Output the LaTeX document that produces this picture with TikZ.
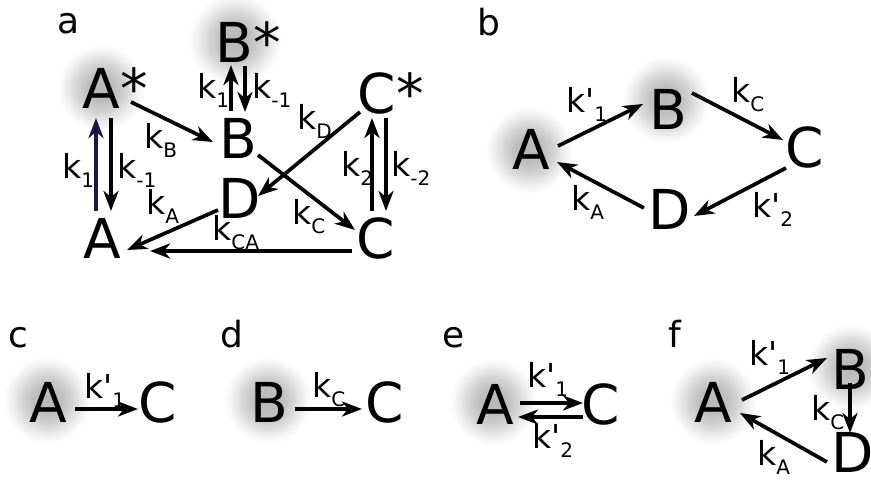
\documentclass[tikz,border=0pt]{standalone}
\usepackage{fontspec}
\setmainfont{DejaVu Sans}
\usetikzlibrary{arrows.meta,calc}
\pgfdeclareradialshading{glow}{\pgfpoint{0bp}{0bp}}{color(0bp)=(black!28); color(8bp)=(black!25); color(14bp)=(black!17); color(19bp)=(black!8); color(23bp)=(black!2); color(25bp)=(white); color(50bp)=(white)}
\newcommand\sbs[1]{\raisebox{-0.3em}{\fontsize{20}{20}\selectfont #1}}
\newcommand\pr{\XeTeXglyph\the\XeTeXcharglyph"0027\relax}
\definecolor{navy}{RGB}{26,22,64}
\tikzset{
  big/.style={inner sep=0pt, font=\fontsize{55}{55}\selectfont},
  lab/.style={inner sep=0pt, anchor=base west, font=\fontsize{33}{33}\selectfont},
  panel/.style={inner sep=0pt, anchor=base west, font=\fontsize{36}{36}\selectfont},
  arr/.style={line width=3.7pt, -{Stealth[length=20pt,width=15pt,inset=6pt]}},
}
\newcommand\glowat[2]{\shade[shading=glow] (#1) circle (#2);}
\begin{document}
\begin{tikzpicture}[x=1pt,y=-1pt]
\useasboundingbox (0,0) rectangle (871,485);
% glows
\glowat{101,88}{44}
\glowat{235,40}{47}
\glowat{529,150}{44}
\glowat{666,100}{44}
\glowat{47,400}{44}
\glowat{268,400}{44}
\glowat{493,402}{44}
\glowat{713,401}{44}
\glowat{851,367}{44}
% panel labels
\node[panel] (pa) at (57,33) {a};
\node[panel] (pb) at (477,35) {b};
\node[panel] (pc) at (8,347) {c};
\node[panel] (pd) at (220,347) {d};
\node[panel] (pe) at (442,347) {e};
\node[panel] (pf) at (668,347) {f};
% ---------- panel a
\node[big] (As) at (101,88) {A};
\node[big, anchor=base west] (Asx) at (As.base east) {*};
\node[big] (Bs) at (234,42) {B};
\node[big, anchor=base west] (Bsx) at (Bs.base east) {*};
\node[big] (Cs) at (377,93) {C};
\node[big, anchor=base west] (Csx) at (Cs.base east) {*};
\node[big] (aB) at (238,138) {B};
\node[big] (aD) at (240,198) {D};
\node[big] (aA) at (102,238) {A};
\node[big] (aC) at (376,238) {C};
\draw[arr, navy] ($(aA)+(-6,-27)$) -- ($(As)+(-5,30)$);
\draw[arr] ($(As)+(10,30)$) -- ($(aA)+(9,-27)$);
\draw[arr] ($(As)+(30,14)$) -- ($(aB)+(-25,4)$);
\draw[arr] ($(aB)+(-7,-27)$) -- ($(Bs)+(-3,23)$);
\draw[arr] ($(Bs)+(11,24)$) -- ($(aB)+(7,-26)$);
\draw[arr] ($(Cs)+(-17,19)$) -- ($(aD)+(18,-2)$);
\draw[arr] ($(aB)+(20,17)$) -- ($(aC)+(-21,-8)$);
\draw[arr] ($(aC)+(-4,-27)$) -- ($(Cs)+(-5,25)$);
\draw[arr] ($(Cs)+(9,25)$) -- ($(aC)+(10,-27)$);
\draw[arr] ($(aD)+(-22,12)$) -- ($(aA)+(25,12)$);
\draw[arr] ($(aC)+(-24,13)$) -- ($(aA)+(48,13)$);
\node[lab] (la1) at (62,178) {k\sbs{1}};
\node[lab] (la2) at (117,178) {k\sbs{-1}};
\node[lab] (la3) at (144,148) {k\sbs{B}};
\node[lab] (la4) at (197,98) {k\sbs{1}};
\node[lab] (la5) at (252,98) {k\sbs{-1}};
\node[lab] (la6) at (297,129) {k\sbs{D}};
\node[lab] (la7) at (341,176) {k\sbs{2}};
\node[lab] (la8) at (391,176) {k\sbs{-2}};
\node[lab] (la9) at (146,214) {k\sbs{A}};
\node[lab] (la10) at (292,224) {k\sbs{C}};
\node[lab] (la11) at (212,240) {k\sbs{CA}};
% ---------- panel b
\node[big] (bA) at (531,149) {A};
\node[big] (bB) at (668,109) {B};
\node[big] (bC) at (805,147) {C};
\node[big] (bD) at (670,209) {D};
\draw[arr] ($(bA)+(27,-3)$) -- ($(bB)+(-25,-5)$);
\draw[arr] ($(bB)+(24,-16)$) -- ($(bC)+(-22,-7)$);
\draw[arr] ($(bC)+(-19,21)$) -- ($(bD)+(24,7)$);
\draw[arr] ($(bD)+(-26,-1)$) -- ($(bA)+(26,13)$);
\node[lab] (lb1) at (566,112) {k\pr\sbs{1}};
\node[lab] (lb2) at (731,102) {k\sbs{C}};
\node[lab] (lb3) at (752,217) {k\pr\sbs{2}};
\node[lab] (lb4) at (571,210) {k\sbs{A}};
% ---------- panel c
\node[big] (cA) at (48,402) {A};
\node[big] (cC) at (158,402) {C};
\draw[arr] ($(cA)+(27,7)$) -- ($(cC)+(-20,7)$);
\node[lab] (lc1) at (84,398) {k\pr\sbs{1}};
% ---------- panel d
\node[big] (dB) at (269,402) {B};
\node[big] (dC) at (385,402) {C};
\draw[arr] ($(dB)+(26,7)$) -- ($(dC)+(-23,7)$);
\node[lab] (ld1) at (312,397) {k\sbs{C}};
% ---------- panel e
\node[big] (eA) at (495,404) {A};
\node[big] (eC) at (601,404) {C};
\draw[arr] ($(eA)+(25,-1)$) -- ($(eC)+(-18,-1)$);
\draw[arr] ($(eC)+(-18,13)$) -- ($(eA)+(23,13)$);
\node[lab] (le1) at (527,387) {k\pr\sbs{1}};
\node[lab] (le2) at (532,448) {k\pr\sbs{2}};
% ---------- panel f
\node[big] (fA) at (713,402) {A};
\node[big] (fB) at (850,369) {B};
\node[big] (fD) at (853,452) {D};
\draw[arr] ($(fA)+(29,-2)$) -- ($(fB)+(-23,-11)$);
\draw[arr] ($(fB)+(0,14)$) -- ($(fD)+(-3,-19)$);
\draw[arr] ($(fD)+(-26,10)$) -- ($(fA)+(27,11)$);
\node[lab] (lf1) at (749,365) {k\pr\sbs{1}};
\node[lab] (lf2) at (811,420) {k\sbs{C}};
\node[lab] (lf3) at (757,465) {k\sbs{A}};
\end{tikzpicture}
\end{document}
